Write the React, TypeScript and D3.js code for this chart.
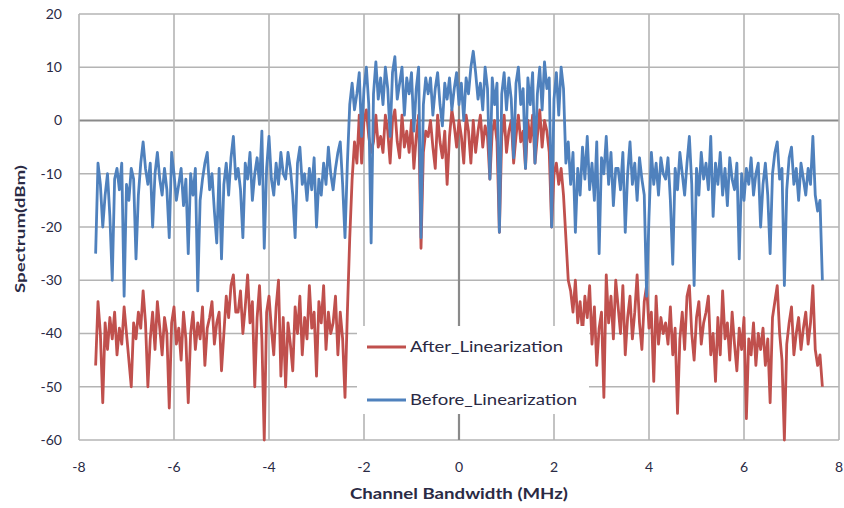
import * as d3 from 'd3'

// frequency grid of the sampled spectrum (MHz)
const freqStart = -7.65
const freqStep = 0.05

// Before_Linearization (dBm), one row per MHz
const beforeLin: number[] = [
    -25, -8, -12, -20, -14, -10, -18, -30, -11, -9, -13, -8, -33, -12, -15, -9, -11, -26, -14, -8,
    -4, -9, -12, -8, -20, -10, -6, -11, -14, -9, -13, -22, -6, -10, -15, -12, -9, -16, -11, -25,
    -10, -14, -9, -32, -15, -11, -8, -6, -13, -10, -17, -23, -9, -26, -12, -8, -14, -7, -3, -11,
    -9, -13, -22, -8, -11, -6, -15, -10, -7, -12, -2, -24, -9, -3, -11, -14, -8, -12, -6, -10,
    -11, -6, -9, -14, -22, -8, -5, -12, -10, -15, -9, -13, -7, -20, -11, -14, -8, -12, -5, -10,
    -13, -9, -6, -4, -12, -22, -8, 3, 7, 2, 5, 9, -3, 6, 10, 3, -23, 5, 11, 4,
    8, 3, 10, 6, -3, 9, 12, 4, 7, 10, 1, 8, 5, 9, -2, 6, 10, -22, 3, 8,
    5, 8, 1, 6, 9, 3, -1, 7, 4, 8, 2, 6, 9, 3, 7, 0, 8, 5, 10, 13,
    9, 4, 7, 2, 10, 6, -11, 8, 3, 7, -21, 5, 9, 2, 8, 4, -7, 7, 10, 3,
    6, -9, 8, 3, 9, -8, 5, 10, 2, 11, 6, 8, -20, 4, 9, 1, 10, 6, -8, -4,
    -12, -6, -21, -9, -14, -5, -11, -3, -13, -8, -15, -4, -25, -7, -10, -3, -12, -6, -16, -9,
    -9, -13, -6, -21, -10, -4, -12, -8, -15, -7, -11, -14, -33, -18, -6, -12, -8, -14, -7, -10,
    -11, -7, -15, -27, -9, -13, -6, -10, -14, -8, -3, -12, -31, -9, -14, -6, -11, -8, -13, -3,
    -18, -8, -12, -6, -14, -9, -16, -7, -11, -13, -8, -26, -10, -15, -9, -12, -7, -14, -10, -8,
    -20, -12, -8, -14, -25, -10, -6, -4, -11, -9, -31, -13, -7, -5, -12, -9, -15, -8, -11, -14,
    -9, -12, -3, -14, -17, -15, -30,
]

// After_Linearization (dBm)
const afterLin: number[] = [
    -46, -34, -40, -53, -38, -43, -37, -41, -36, -44, -39, -42, -35, -40, -45, -50, -38, -41, -36, -39,
    -32, -38, -50, -41, -36, -43, -34, -39, -44, -37, -40, -54, -38, -35, -42, -39, -45, -36, -41, -53,
    -40, -36, -43, -38, -41, -35, -46, -39, -37, -34, -42, -38, -36, -47, -40, -33, -37, -31, -29, -36,
    -36, -32, -40, -35, -29, -38, -34, -50, -37, -31, -41, -60, -36, -33, -39, -44, -35, -30, -48, -37,
    -50, -38, -42, -47, -35, -40, -33, -44, -37, -41, -31, -39, -36, -48, -34, -38, -31, -43, -36, -40,
    -38, -33, -44, -36, -41, -52, -36, -22, -11, -4, -8, 1, -8, 0, 2, -3, -6, -4, 1, -5,
    -3, -6, 1, -2, -8, 0, 2, -4, -7, 1, -5, -2, -6, 0, -9, -3, 1, -24, -6, -2,
    -3, 0, -5, -9, 1, -4, -7, -2, -12, -3, 2, -1, -5, 0, -3, -8, 1, -2, -8, 0,
    -6, -2, 1, -5, -1, -3, -11, -2, 0, -4, -21, -3, 1, -6, -2, 0, -8, -3, 1, -4,
    -2, -9, 0, -4, 1, -8, -3, 2, -5, 0, -2, -6, -20, -10, -8, -12, -9, -14, -22, -30,
    -32, -36, -30, -38, -34, -40, -33, -37, -31, -42, -35, -46, -39, -36, -52, -29, -38, -33, -41, -30,
    -35, -40, -31, -44, -37, -33, -41, -36, -29, -38, -43, -34, -31, -39, -36, -49, -33, -42, -37, -40,
    -38, -42, -35, -44, -39, -55, -41, -36, -43, -33, -31, -40, -45, -37, -34, -42, -38, -36, -33, -44,
    -40, -49, -37, -44, -32, -41, -38, -45, -36, -42, -47, -39, -43, -37, -56, -41, -44, -38, -46, -40,
    -43, -39, -46, -41, -53, -37, -34, -31, -40, -45, -60, -42, -38, -35, -44, -40, -37, -43, -39, -36,
    -42, -38, -31, -43, -46, -44, -50,
]

const xTicks = [-8, -6, -4, -2, 0, 2, 4, 6, 8]
const yTicks = [-60, -50, -40, -30, -20, -10, 0, 10, 20]

const width = 844
const height = 508
const left = 79
const right = 839
const top = 14
const bottom = 440

const font = 'Lato, "Open Sans", sans-serif'
const labelColor = '#2a2a44'
const redColor = '#c0504d'
const blueColor = '#4f81bd'

export default function App() {
    const x = d3.scaleLinear().domain([-8, 8]).range([left, right])
    const y = d3.scaleLinear().domain([-60, 20]).range([bottom, top])

    const line = d3
        .line<number>()
        .x((_, i) => x(freqStart + i * freqStep))
        .y((d) => y(d))

    return (
        <svg
            width={width}
            height={height}
            style={{ position: 'absolute', left: 0, top: 0, background: 'white' }}
        >
            {/* grid */}
            {yTicks.map((t) => (
                <line
                    key={'gy' + t}
                    x1={left}
                    x2={right}
                    y1={y(t)}
                    y2={y(t)}
                    stroke={t === 0 ? '#8a8a8a' : '#b4b4b4'}
                    strokeWidth={t === 0 ? 2.2 : 1.6}
                />
            ))}
            {xTicks.map((t) => (
                <line
                    key={'gx' + t}
                    x1={x(t)}
                    x2={x(t)}
                    y1={top}
                    y2={bottom}
                    stroke={t === 0 ? '#8a8a8a' : '#b4b4b4'}
                    strokeWidth={t === 0 ? 2.2 : 1.6}
                />
            ))}

            {/* series */}
            <path
                d={line(afterLin) ?? undefined}
                fill="none"
                stroke={redColor}
                strokeWidth={2.8}
                strokeLinejoin="round"
            />
            <path
                d={line(beforeLin) ?? undefined}
                fill="none"
                stroke={blueColor}
                strokeWidth={2.8}
                strokeLinejoin="round"
            />

            {/* tick labels */}
            {yTicks.map((t) => (
                <text
                    key={'ly' + t}
                    x={62}
                    y={y(t)}
                    dy="0.35em"
                    textAnchor="end"
                    fontFamily={font}
                    fontSize={14}
                    fill={labelColor}
                >
                    {t}
                </text>
            ))}
            {xTicks.map((t) => (
                <text
                    key={'lx' + t}
                    x={x(t)}
                    y={467}
                    dy="0.35em"
                    textAnchor="middle"
                    fontFamily={font}
                    fontSize={14}
                    fill={labelColor}
                >
                    {t}
                </text>
            ))}

            {/* axis titles */}
            <text
                x={350}
                y={494}
                dy="0.35em"
                textLength={218}
                lengthAdjust="spacingAndGlyphs"
                fontFamily={font}
                fontSize={15}
                fontWeight="bold"
                fill={labelColor}
            >
                Channel Bandwidth (MHz)
            </text>
            <text
                transform="translate(20,293) rotate(-90)"
                dy="0.35em"
                textLength={128}
                lengthAdjust="spacingAndGlyphs"
                fontFamily={font}
                fontSize={14}
                fontWeight="bold"
                fill={labelColor}
            >
                Spectrum(dBm)
            </text>

            {/* legend */}
            <rect x={357} y={326} width={232} height={88} fill="white" />
            <line x1={367} x2={406} y1={347} y2={347} stroke={redColor} strokeWidth={2.8} />
            <text
                x={410}
                y={347}
                dy="0.35em"
                textLength={153}
                lengthAdjust="spacingAndGlyphs"
                fontFamily={font}
                fontSize={15}
                fill={labelColor}
            >
                After_Linearization
            </text>
            <line x1={367} x2={406} y1={400} y2={400} stroke={blueColor} strokeWidth={2.8} />
            <text
                x={410}
                y={400}
                dy="0.35em"
                textLength={167}
                lengthAdjust="spacingAndGlyphs"
                fontFamily={font}
                fontSize={15}
                fill={labelColor}
            >
                Before_Linearization
            </text>
        </svg>
    )
}
